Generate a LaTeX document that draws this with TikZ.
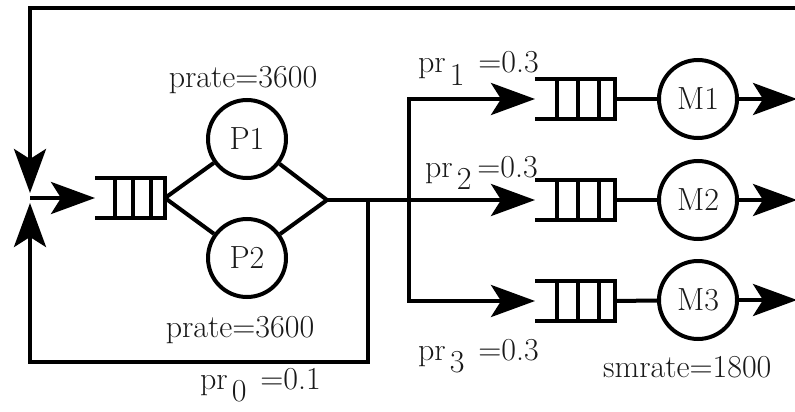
\documentclass[tikz,border=0pt]{standalone}
\usetikzlibrary{arrows.meta,calc}
\begin{document}
\begin{tikzpicture}[x=0.5pt,y=-0.5pt,
  every node/.style={font=\rmfamily\fontsize{16}{19}\selectfont,text=black!90},
  wire/.style={line width=2pt},
  arr/.style={wire,-{Stealth[length=22pt,width=16pt,inset=5pt]}},
  server/.style={circle,draw,line width=2pt,minimum size=39pt,inner sep=0pt},
  queue/.style={minimum width=40pt,minimum height=20pt,inner sep=0pt,outer sep=0pt}]
\useasboundingbox (0,0) rectangle (795,411);
% queues
\node[queue,minimum width=35pt] (q0) at (130,198) {};
\node[queue] (qa) at (575,99) {};
\node[queue] (qb) at (575,200) {};
\node[queue] (qc) at (575,301) {};
\foreach \q in {q0,qa,qb,qc}{
  \draw[wire] (\q.north west) -- (\q.north east) -- (\q.south east) -- (\q.south west);
  \foreach \f in {0.28,0.54,0.8}
    \draw[wire] ($(\q.north west)!\f!(\q.north east)$) -- ($(\q.south west)!\f!(\q.south east)$);
}
% servers
\node[server] (P1) at (247,139) {P1};
\node[server] (P2) at (247,258) {P2};
\node[server] (M1) at (698,99) {M1};
\node[server] (M2) at (698,200) {M2};
\node[server] (M3) at (698,300) {M3};
% labels
\node (rate1) at (243,80) {prate=3600};
\node (rate2) at (240,330) {prate=3600};
\node[anchor=base west] (pr0) at (193,389) {pr\hspace{2pt}\raisebox{-.4em}{0}\hspace{7pt}=0.1};
\node[anchor=base west] (pr1) at (411,73) {pr\hspace{2pt}\raisebox{-.4em}{1}\hspace{7pt}=0.3};
\node[anchor=base west] (pr2) at (418,177) {pr\hspace{2pt}\raisebox{-.4em}{2}\hspace{3pt}=0.3};
\node[anchor=base west] (pr3) at (411,360) {pr\hspace{2pt}\raisebox{-.4em}{3}\hspace{7pt}=0.3};
\node[anchor=base west] (srate) at (596,377) {smrate=1800};
% connectors
\coordinate (ret) at (795,8);
\coordinate (in) at (30,198);
\coordinate (fork) at (327,200);
\coordinate (fb) at (368,200);
\coordinate (sp) at (409,200);
\draw[arr,shorten >=2.5pt] (ret) -| (in);
\draw[arr,shorten >=2.5pt] (fb) -- ++(0,162) -| (in);
\draw[arr] (in) -- (q0.west);
\draw[wire] (q0.east) -- (P1);
\draw[wire] (q0.east) -- (P2);
\draw[wire] (P1) -- (fork) -- (P2);
\draw[wire] (fork) -- (sp);
\draw[arr] (sp) -- (qb.west);
\draw[arr] (sp) |- (qa.west);
\draw[arr] (sp) |- (qc.west);
\draw[wire] (qa.east) -- (M1);
\draw[wire] (qb.east) -- (M2);
\draw[wire] (qc.east) -- (M3);
\draw[arr] (M1.east) -- ++(58,0);
\draw[arr] (M2.east) -- ++(58,0);
\draw[arr] (M3.east) -- ++(58,0);
\end{tikzpicture}
\end{document}
